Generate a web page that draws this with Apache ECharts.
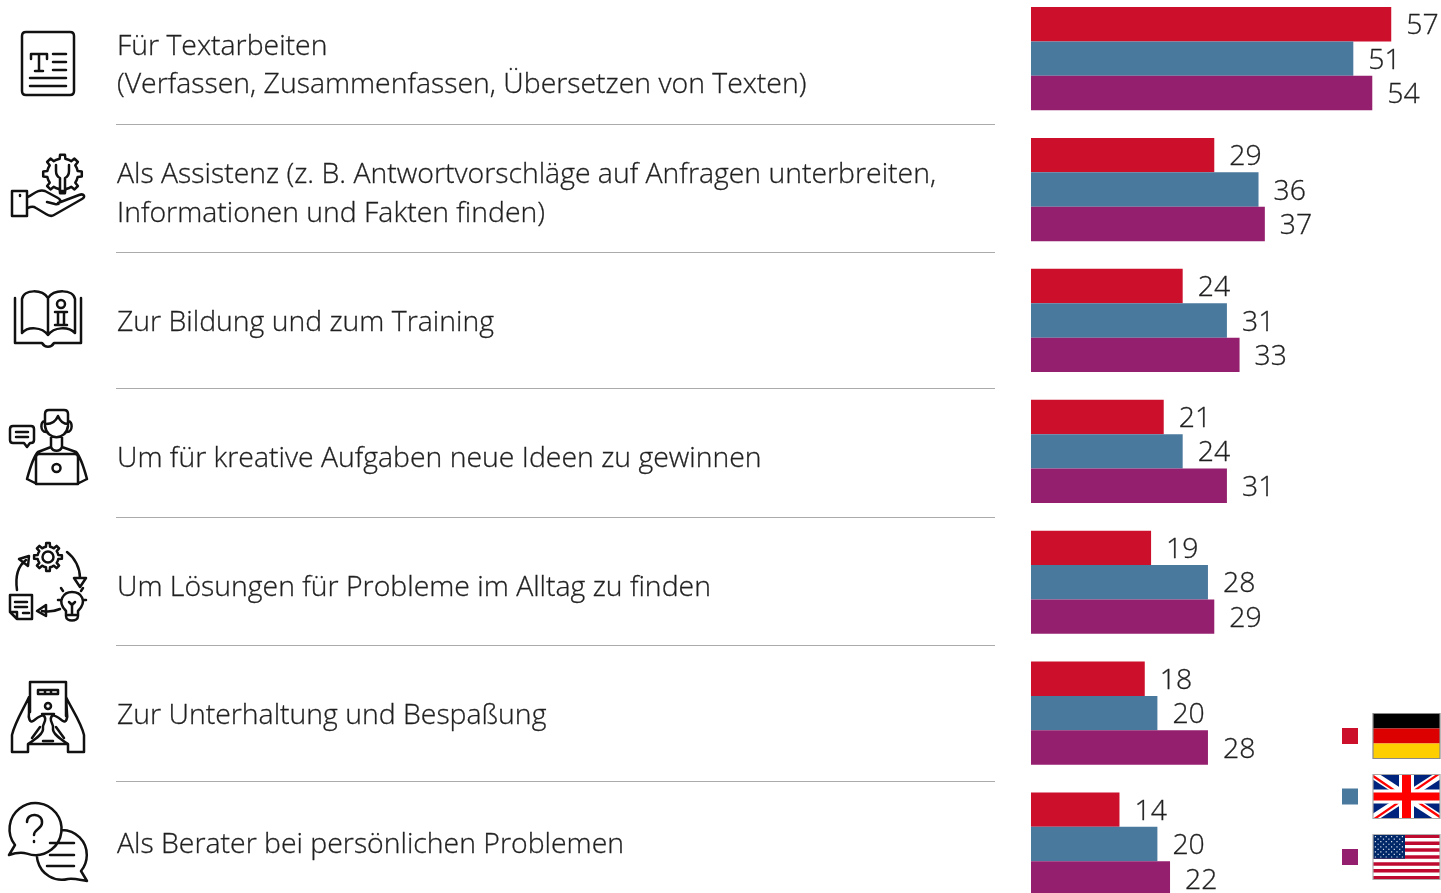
<!DOCTYPE html>
<html lang="de">
<head>
<meta charset="utf-8">
<title>KI Nutzung</title>
<style>html,body{margin:0;padding:0;background:#fff;overflow:hidden}#c{width:1441px;height:893px}</style>
<script src="https://cdn.jsdelivr.net/npm/echarts@6/dist/echarts.min.js"></script>
</head>
<body>
<div id="c"></div>
<script>
const categories = [
  "Für Textarbeiten\n(Verfassen, Zusammenfassen, Übersetzen von Texten)",
  "Als Assistenz (z. B. Antwortvorschläge auf Anfragen unterbreiten,\nInformationen und Fakten finden)",
  "Zur Bildung und zum Training",
  "Um für kreative Aufgaben neue Ideen zu gewinnen",
  "Um Lösungen für Probleme im Alltag zu finden",
  "Zur Unterhaltung und Bespaßung",
  "Als Berater bei persönlichen Problemen"
];
const germany = [57, 29, 24, 21, 19, 18, 14];
const uk = [51, 36, 31, 24, 28, 20, 20];
const usa = [54, 37, 33, 31, 29, 28, 22];

const labelY = [66, 194.5, 323, 459, 588, 716, 845];
const separatorY = [124, 252, 388, 517, 645, 781];

const FONT = '"Open Sans", sans-serif';
const INK = '#1f1f1f';
const RED = '#CC0F2B', BLUE = '#4A799E', PURPLE = '#941F6E';

function gear(cx, cy, ro, ri, n) {
  let d = '';
  const step = Math.PI * 2 / n;
  for (let i = 0; i < n; i++) {
    const a = i * step - Math.PI / 2;
    const pts = [[a - step * .5, ri], [a - step * .24, ri], [a - step * .16, ro], [a + step * .16, ro], [a + step * .24, ri]];
    pts.forEach((p, j) => {
      const x = (cx + Math.cos(p[0]) * p[1]).toFixed(1), y = (cy + Math.sin(p[0]) * p[1]).toFixed(1);
      d += (i === 0 && j === 0 ? 'M' : 'L') + x + ' ' + y + ' ';
    });
  }
  return d + 'Z';
}
function circle(cx, cy, r) {
  return `M${cx - r} ${cy}A${r} ${r} 0 1 1 ${cx + r} ${cy}A${r} ${r} 0 1 1 ${cx - r} ${cy}Z`;
}
const iconPaths = [
  // text document
  'M26 32H70Q74 32 74 36V91Q74 95 70 95H26Q22 95 22 91V36Q22 32 26 32Z' +
  'M31 59V54H47V59M39 54V71M35 71H43M53 54H66M53 62H66M53 70H66M30 78H66M30 86H66',
  // hand + gear
  gear(62.5, 174, 19.5, 15.5, 8) +
  'M56 165V171C56 175 58 177 60 178V191H65V178C67 177 69 175 69 171V165M12 191H27V216H12ZM28 197C34 194 38 189 45 191L58 198C62 200 60 205 55 204L47 202' +
  'M58 203L79 195C84 193 86 197 82 199L54 215C51 217 49 216 46 214L36 208C33 206 30 207 28 208M20 195V196',
  // book
  'M22 299C24 289 42 289 48 298C54 289 73 289 75 299V333C68 326 54 327 48 335C42 327 28 326 22 333ZM48 298V335' +
  'M15 298V343H42C45 348 51 348 54 343H81V298' + circle(61, 304, 4) + 'M55 312H67M58 312V325M64 312V325M55 325H67',
  // person with laptop
  'M45 425V414Q45 410 49 410H64Q68 410 68 414V425M45 426C47 441 66 441 68 426M46 424C52 424 56 421 58 416C60 421 64 424 68 424' +
  'M45 421C40 421 40 432 46 432M68 421C73 421 73 432 67 432M51 437V447C53 452 60 452 62 447V437' +
  'M51 447L38 452C34 456 30 468 27 479M62 447L76 452C80 456 84 468 87 479M27 479L37 484H77L87 479M36 484V457Q36 454 39 454H75Q78 454 78 457V484' + circle(56.5, 468, 4) +
  'M13 426H31Q34 426 34 429V440Q34 443 31 443H30L27 447L24 443H13Q10 443 10 440V429Q10 426 13 426ZM16 432H28M16 437H28',
  // cycle
  gear(48, 557, 14, 10.5, 8) + circle(48, 557, 5.5) +
  'M17 590C15 576 18 566 26 560M19 559L29 556L28 566ZM67 552C75 558 80 568 80 578M74 578H86L80 587Z' +
  'M10 595H32V619H17L10 612ZM10 612H17V619M15 602H27M15 607H27M23 613H29M60 609C53 612 47 612 42 611M37 611L46 605V616Z' +
  'M66 611C56 601 64 592 72 592C81 592 88 601 78 611V616C78 622 66 622 66 616ZM68 615H76M72 615V604M69 602L72 605L75 602M61 588L63 591M83 588L81 591M58 600H60M84 600H86',
  // hands and phone
  'M30 682H66V716M30 682V712M38 690H58V694H38ZM45 690V694M51 690V694M42 714H54' + circle(48, 706, 3) +
  'M29 697C24 708 15 722 12 735V752H28V744C34 740 44 734 43 728C42 724 48 720 44 716C41 714 36 719 33 721C30 723 28 718 29 713ZM66 697C71 708 81 722 84 735V752H68V744C62 740 52 734 53 728C54 724 48 720 52 716C55 714 60 719 63 721C66 723 68 718 67 713Z' +
  'M40 727L32 738M56 727L64 738M30 744H66M43 741H53',
  // speech bubbles
  'M15 845A26 26 0 1 1 27 853.6C21 852 15 853 9 855Z' +
  'M62 830A25 25 0 0 1 81 871L87 881C80 880 74 878 68 879A25 25 0 0 1 37 857M50 843H74M50 855H74M47 866H74' +
  'M27 822C27 812 43 813 42 823C42 829 34 829 34 835M34 841V842'
];
const stroke = { fill: 'none', stroke: '#111', lineWidth: 2.5, lineJoin: 'round', lineCap: 'round' };
const graphics = [];
iconPaths.forEach((p, i) => {
  echarts.graphic.registerShape('icon' + i, echarts.graphic.extendPath(p));
  graphics.push({ type: 'icon' + i, style: stroke, silent: true });
});
categories.forEach((t, i) => graphics.push({
  type: 'text', x: 117, y: labelY[i],
  style: { text: t, font: `300 28.4px ${FONT}`, fill: INK, stroke: INK, lineWidth: 0.3, lineHeight: 38.5, textAlign: 'left', textVerticalAlign: 'middle' }
}));
separatorY.forEach(y => graphics.push({
  type: 'line', shape: { x1: 116, y1: y + .5, x2: 995, y2: y + .5 }, style: { stroke: '#ABABAB', lineWidth: 1.2 }
}));

function rect(x, y, w, h, fill) { graphics.push({ type: 'rect', shape: { x, y, width: w, height: h }, style: { fill } }); }
function poly(points, fill) { graphics.push({ type: 'polygon', shape: { points }, style: { fill } }); }
const FX = 1373, FW = 67;
// Germany
rect(FX, 713.5, FW, 15, '#000'); rect(FX, 728.5, FW, 15, '#DD0000'); rect(FX, 743.5, FW, 15, '#FFCE00');
graphics.push({ type: 'rect', shape: { x: FX, y: 713.5, width: FW, height: 45 }, style: { fill: 'none', stroke: '#8A8A8A', lineWidth: 1.2 } });
// UK
const uy = 774.5, uh = 44;
rect(FX, uy, FW, uh, '#00247D');
poly([[FX, uy], [FX + 7, uy], [FX + FW, uy + uh - 5], [FX + FW, uy + uh], [FX + FW - 7, uy + uh], [FX, uy + 5]], '#fff');
poly([[FX + FW, uy], [FX + FW - 7, uy], [FX, uy + uh - 5], [FX, uy + uh], [FX + 7, uy + uh], [FX + FW, uy + 5]], '#fff');
poly([[FX, uy], [FX + 22, uy + 15], [FX + 18, uy + 15], [FX, uy + 3]], '#F00');
poly([[FX + FW, uy + uh], [FX + FW - 22, uy + uh - 15], [FX + FW - 18, uy + uh - 15], [FX + FW, uy + uh - 3]], '#F00');
poly([[FX + FW, uy], [FX + FW - 22, uy + 15], [FX + FW - 26, uy + 15], [FX + FW - 4, uy]], '#F00');
poly([[FX, uy + uh], [FX + 22, uy + uh - 15], [FX + 26, uy + uh - 15], [FX + 4, uy + uh]], '#F00');
rect(FX + 26, uy, 15, uh, '#fff'); rect(FX, uy + 15, FW, 14, '#fff');
rect(FX + 29, uy, 9, uh, '#F00'); rect(FX, uy + 18, FW, 8, '#F00');
graphics.push({ type: 'rect', shape: { x: FX, y: uy, width: FW, height: uh }, style: { fill: 'none', stroke: '#A8A8A8', lineWidth: 1.2 } });
// USA
const sy = 834.5, sh = 45, st = sh / 13;
rect(FX, sy, FW, sh, '#fff');
for (let i = 0; i < 13; i += 2) rect(FX, sy + i * st, FW, st, '#BF0A30');
rect(FX, sy, 32, st * 7, '#002868');
for (let r = 0; r < 9; r++) {
  const n = r % 2 ? 5 : 6;
  for (let c = 0; c < n; c++) rect(FX + (r % 2 ? 4.5 : 1.8) + c * 5.4, sy + 1.5 + r * 2.55, 1.2, 1.2, '#DDE3F0');
}
graphics.push({ type: 'rect', shape: { x: FX, y: sy, width: FW, height: sh }, style: { fill: 'none', stroke: '#B0B0B0', lineWidth: 1.2 } });

const seriesLabel = { show: true, position: 'right', distance: 15, offset: [0, 2], fontFamily: FONT, fontWeight: 300, fontSize: 28.4, color: INK, textBorderColor: INK, textBorderWidth: 0.3 };
function bar(name, data, color) {
  return { name, type: 'bar', data, barWidth: 34.4, barGap: 0, itemStyle: { color }, label: seriesLabel, silent: true };
}
const chart = echarts.init(document.getElementById('c'), null, { renderer: 'canvas' });
chart.setOption({
  animation: false,
  backgroundColor: '#fff',
  grid: { left: 1031, top: -6.8, width: 410.8, height: 916.3, containLabel: false, outerBoundsMode: 'none' },
  xAxis: { type: 'value', min: 0, max: 65, show: false },
  yAxis: { type: 'category', data: categories, inverse: true, show: false },
  legend: {
    orient: 'vertical', left: 1342, top: 728, padding: 0, itemWidth: 16, itemHeight: 16, itemGap: 44.5,
    icon: 'rect', formatter: () => '', selectedMode: false, textStyle: { fontSize: 1 },
    data: ['Deutschland', 'Großbritannien', 'USA']
  },
  series: [bar('Deutschland', germany, RED), bar('Großbritannien', uk, BLUE), bar('USA', usa, PURPLE)],
  graphic: { elements: graphics }
});
</script>
</body>
</html>
